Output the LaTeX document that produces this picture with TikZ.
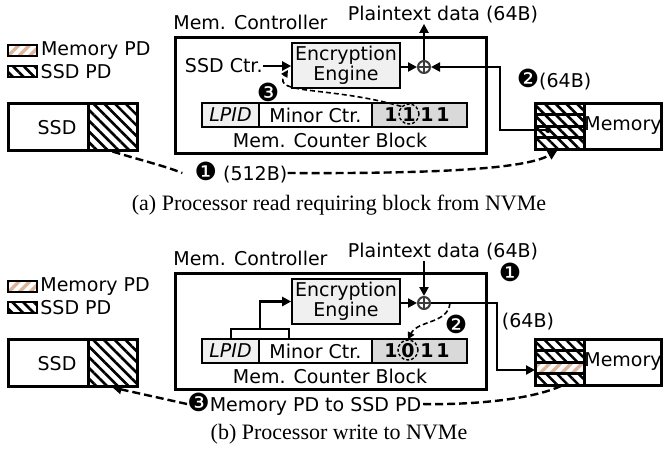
\documentclass[tikz,border=0pt]{standalone}
\usepackage{fontspec}
\setmainfont{DejaVu Sans}
\newfontfamily\capfont{Liberation Serif}
\usetikzlibrary{arrows.meta,patterns.meta,shadows,positioning}
\definecolor{mempd}{RGB}{222,180,155}
\definecolor{enggray}{RGB}{240,240,240}
\definecolor{bitgray}{RGB}{217,217,217}
\definecolor{xorgray}{RGB}{60,60,60}
\newcommand{\stepno}[1]{{\fontsize{12.5}{12}\selectfont#1}}
\tikzset{
  box/.style={draw, line width=1.5pt, fill=white, inner sep=0pt,
    drop shadow={opacity=0.25, shadow xshift=1pt, shadow yshift=-1pt}},
  ssdhatch/.style={pattern={Lines[angle=-45,distance=3.8pt,line width=1.3pt]}, pattern color=black},
  memhatch/.style={pattern={Lines[angle=45,distance=3.8pt,line width=1.7pt]}, pattern color=mempd},
  swatch/.style={draw, line width=1pt, minimum width=14.5pt, minimum height=5.5pt, inner sep=0pt,
    preaction={fill=white}},
  lbl/.style={inner sep=0pt},
  bit/.style={inner sep=0pt, font=\fontsize{9.5}{11}\selectfont\bfseries},
  engbox/.style={draw, line width=0.8pt, fill=enggray, minimum width=54pt, minimum height=22.5pt,
    inner sep=0pt, align=center},
  ctrbox/.style={draw, line width=1.3pt, minimum height=12pt, inner sep=0pt},
  xorc/.style={circle, draw=xorgray, line width=1pt, minimum size=6pt, inner sep=0pt},
  hit/.style={circle, draw, line width=0.7pt, dash pattern=on 1.5pt off 1pt, minimum size=10pt, inner sep=0pt},
  arr/.style={line width=1.2pt, -{Triangle[length=4.5pt,width=4.5pt]}},
  dashline/.style={line width=1.2pt, dash pattern=on 4pt off 2pt},
  dasharr/.style={dashline, -{Triangle[length=4.5pt,width=4.5pt]}},
  thindash/.style={line width=0.8pt, dash pattern=on 2.5pt off 1.5pt, -{Triangle[length=3.5pt,width=3.5pt]}},
  captext/.style={inner sep=0pt, font=\capfont\fontsize{11}{13}\selectfont},
}
\begin{document}
\begin{tikzpicture}[x=0.5pt, y=-0.5pt, font=\fontsize{9.5}{11}\selectfont]
  \useasboundingbox (0,0) rectangle (663,451);

  % parts shared by both panels
  \foreach \p/\dy in {a/0,b/236}{
    \begin{scope}[shift={(0,\dy)}]
      % legend
      \node[swatch, memhatch] (mpd\p) at (22.5,50.5) {};
      \node[lbl, right=1pt of mpd\p] {Memory PD};
      \node[swatch, ssdhatch] (spd\p) at (22.5,71.5) {};
      \node[lbl, right=1pt of spd\p] {SSD PD};
      % SSD
      \node[box, minimum width=64.5pt, minimum height=23.5pt] (ssd\p) at (72.5,126.5) {};
      \node[draw, line width=1.5pt, ssdhatch, minimum width=24.5pt, minimum height=23.5pt] (ssdpd\p) at (112.5,126.5) {};
      \node[lbl] at (57,128) {SSD};
      % memory controller
      \node[box, minimum width=155.5pt, minimum height=58pt] (ctrl\p) at (330.5,95) {};
      \node[lbl, anchor=west] at (173,22) {Mem. Controller};
      \node[engbox] (eng\p) at (346,65.5) {Encryption\\[-1pt]Engine};
      \node[xorc] (xor\p) at (424,67) {};
      \draw[xorgray, line width=1pt] (xor\p.north) -- (xor\p.south) (xor\p.west) -- (xor\p.east);
      \draw[arr] (eng\p.east |- xor\p) -- (xor\p.west);
      % counter block
      \node[ctrbox, fill=enggray, minimum width=28.5pt] (lpid\p) at (230.5,115) {\itshape LPID};
      \node[ctrbox, minimum width=56.5pt] (minor\p) at (315.5,115) {Minor Ctr.};
      \node[ctrbox, fill=bitgray, minimum width=47.5pt] (bits\p) at (419.5,115) {};
      \node[lbl] at (330,140) {Mem. Counter Block};
      % memory
      \node[box, minimum width=63pt, minimum height=23pt] (mem\p) at (598,126) {};
      \foreach \r in {0,...,3}
        \draw[line width=1.5pt, ssdhatch] (535,103+11.5*\r) rectangle (584,114.5+11.5*\r);
      \node[lbl] at (623,126) {Memory};
    \end{scope}
  }

  % (a) read
  \foreach \x in {391,409,427,443}
    \node[bit] at (\x,115) {1};
  \node[hit] (hita) at (409,114) {};
  \node[lbl, anchor=east] (sctr) at (263,66) {SSD Ctr.};
  \draw[arr] (sctr.east) -- (enga.west |- sctr.east);
  \node[lbl] (pta) at (443,15) {Plaintext data (64B)};
  \draw[arr] (xora.north) -- (xora.north |- pta.south);
  \coordinate (tapa) at (548,130);
  \fill (tapa) circle (1.5pt);
  \draw[arr] (tapa) -- (500,130) |- (xora.east);
  \node[lbl] at (554,80) {\stepno{❷}(64B)};
  \draw[thindash] (hita.north west) .. controls (330,86) and (272,95) .. (288,70);
  \node[lbl] at (268,92) {\stepno{❸}};
  \node[lbl] (rda) at (241,173) {\stepno{❶} (512B)};
  \coordinate (mbota) at (557,151);
  \draw[dashline] (ssdpda.south) .. controls (140,160) and (165,166) .. ([xshift=-6pt]rda.west);
  \draw[dasharr] (rda.east) .. controls (470,174) and (530,166) .. (mbota);
  \node[captext] at (339,205) {(a) Processor read requiring block from NVMe};

  % (b) write
  \draw[line width=1.5pt, preaction={fill=white}, memhatch] (535,362) rectangle (584,373.5);
  \foreach \x/\d in {391/1,408/0,427/1,443/1}
    \node[bit] at (\x,351) {\d};
  \node[hit] (hitb) at (408,350) {};
  \node[lbl] (ptb) at (443,252) {Plaintext data (64B)};
  \draw[arr] (xorb.north |- ptb.south) -- (xorb.north);
  \node[lbl] at (510,272) {\stepno{❶}};
  \coordinate (inb) at (535,370);
  \draw[arr] (xorb.east) -- (497,303) |- (inb);
  \node[lbl] at (528,322) {(64B)};
  \node[lbl] at (456,324) {\stepno{❷}};
  \coordinate (tapb) at (450,303);
  \draw[thindash] (tapb) .. controls (448,324) and (418,320) .. (hitb.north);
  \draw[line width=1pt] (lpidb.north) -- (230.5,329) -| (289,339);
  \draw[arr] (260,329) |- (engb.west);
  \node[lbl, anchor=west] (ptsb) at (187,404) {\stepno{❸}Memory PD to SSD PD};
  \coordinate (mbotb) at (561,386);
  \draw[dashline] (mbotb) .. controls (530,400) and (470,405) .. (ptsb.east);
  \draw[dasharr] (ptsb.west) -- (ssdpdb.south);
  \node[captext] at (339,434) {(b) Processor write to NVMe};
\end{tikzpicture}
\end{document}
